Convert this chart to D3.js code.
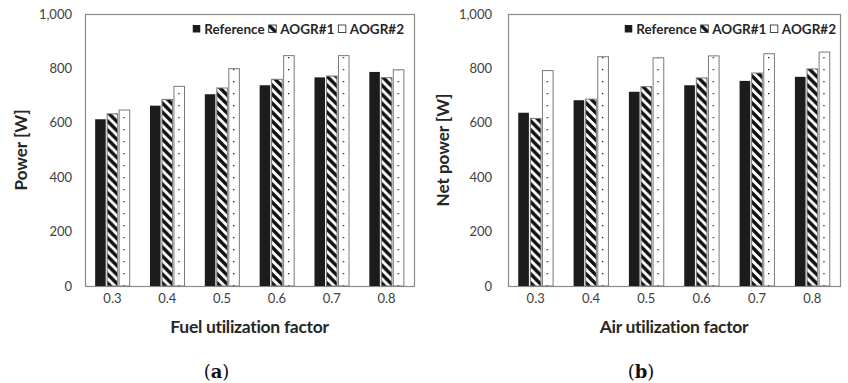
<!DOCTYPE html>
<html>
<head>
<meta charset="utf-8">
<script src="https://cdn.jsdelivr.net/npm/d3@7"></script>
<style>
  html, body { margin: 0; padding: 0; background: #fff; }
  svg { display: block; }
</style>
</head>
<body>
<svg id="chart" width="848" height="383"></svg>
<script>
// Factor levels shared by both panels
const factors = ["0.3", "0.4", "0.5", "0.6", "0.7", "0.8"];
const seriesNames = ["Reference", "AOGR#1", "AOGR#2"];
const yTicks = [0, 200, 400, 600, 800, 1000];

// (a) Power vs fuel utilization factor
const fuelReference = [613, 663, 705, 738, 767, 787];
const fuelAogr1     = [633, 686, 728, 760, 772, 766];
const fuelAogr2     = [647, 734, 799, 847, 847, 795];

// (b) Net power vs air utilization factor
const airReference = [637, 683, 714, 738, 754, 769];
const airAogr1     = [616, 687, 733, 765, 783, 798];
const airAogr2     = [792, 843, 839, 846, 854, 860];

const svg = d3.select("#chart");
const FONT = "Lato, 'Open Sans', sans-serif";

// Fill patterns: wide downward diagonal stripes and sparse dots
const defs = svg.append("defs");
const hatch = defs.append("pattern")
  .attr("id", "hatch").attr("patternUnits", "userSpaceOnUse")
  .attr("width", 9).attr("height", 9);
hatch.append("rect").attr("width", 9).attr("height", 9).attr("fill", "#fff");
hatch.append("path")
  .attr("d", "M-3,-3 L12,12 M-3,6 L3,12 M6,-3 L12,3")
  .attr("stroke", "#111").attr("stroke-width", 3.4);

const dots = defs.append("pattern")
  .attr("id", "dots").attr("patternUnits", "userSpaceOnUse")
  .attr("width", 14).attr("height", 12);
dots.append("rect").attr("width", 14).attr("height", 12).attr("fill", "#fff");
dots.append("rect").attr("x", 4).attr("y", 3).attr("width", 1.3).attr("height", 1.3).attr("fill", "#222");
dots.append("rect").attr("x", 11).attr("y", 9).attr("width", 1.3).attr("height", 1.3).attr("fill", "#222");

const fills = {
  "Reference": { fill: "#1c1c1c", stroke: "none" },
  "AOGR#1":    { fill: "url(#hatch)", stroke: "#7a7a7a" },
  "AOGR#2":    { fill: "url(#dots)", stroke: "#7a7a7a" }
};

function drawPanel(cfg) {
  const { left, right, top, bottom, series, yTitle, xTitle, tag, tickRight, yTitleX, legendEnd } = cfg;

  const x0 = d3.scaleBand().domain(factors).range([left, right]).padding(0);
  const groupW = x0.bandwidth() * 0.63;
  const x1 = d3.scaleBand().domain(seriesNames).range([-groupW / 2, groupW / 2]).paddingInner(0.12);
  const y = d3.scaleLinear().domain([0, 1000]).range([bottom, top]);

  const g = svg.append("g");

  // plot frame
  g.append("rect")
    .attr("x", left + 0.5).attr("y", top + 0.5)
    .attr("width", right - left).attr("height", bottom - top)
    .attr("fill", "none").attr("stroke", "#8a8a8a").attr("stroke-width", 1.2);

  // bars
  const rows = factors.map((f, i) => ({
    factor: f,
    values: seriesNames.map((s, k) => ({ name: s, value: series[k][i] }))
  }));
  const groups = g.selectAll("g.grp").data(rows).join("g")
    .attr("class", "grp")
    .attr("transform", d => `translate(${x0(d.factor) + x0.bandwidth() / 2},0)`);
  groups.selectAll("rect").data(d => d.values).join("rect")
    .attr("x", d => x1(d.name))
    .attr("y", d => y(d.value))
    .attr("width", x1.bandwidth())
    .attr("height", d => y(0) - y(d.value))
    .attr("fill", d => fills[d.name].fill)
    .attr("stroke", d => fills[d.name].stroke)
    .attr("stroke-width", 1);

  // y axis labels (no ticks or domain line; the frame is the axis)
  const yAxis = d3.axisLeft(y).tickValues(yTicks).tickSize(0).tickPadding(0)
    .tickFormat(d3.format(","));
  const ya = g.append("g").attr("transform", `translate(${tickRight},0)`).call(yAxis);
  ya.select(".domain").remove();
  ya.selectAll("text").attr("font-family", FONT).attr("font-size", 13).attr("fill", "#404040");

  // x axis labels
  const xAxis = d3.axisBottom(x0).tickSize(0).tickPadding(0);
  const xa = g.append("g").attr("transform", `translate(0,${bottom + 8})`).call(xAxis);
  xa.select(".domain").remove();
  xa.selectAll("text").attr("font-family", FONT).attr("font-size", 13).attr("fill", "#404040");

  // axis titles
  g.append("text")
    .attr("transform", `translate(${yTitleX},${(top + bottom) / 2}) rotate(-90)`)
    .attr("text-anchor", "middle").attr("dominant-baseline", "central")
    .attr("font-family", FONT).attr("font-weight", "bold").attr("font-size", 17)
    .attr("fill", "#262626").text(yTitle);
  g.append("text")
    .attr("x", (left + right) / 2).attr("y", 326)
    .attr("text-anchor", "middle").attr("dominant-baseline", "central")
    .attr("font-family", FONT).attr("font-weight", "bold").attr("font-size", 17.5)
    .attr("letter-spacing", -0.3)
    .attr("fill", "#262626").text(xTitle);

  // panel tag, e.g. (a)
  const t = g.append("text")
    .attr("x", (left + right) / 2 - 33).attr("y", 378)
    .attr("text-anchor", "middle")
    .attr("font-family", "'DejaVu Serif', 'Liberation Serif', serif").attr("font-size", 18)
    .attr("fill", "#111");
  t.append("tspan").text("(");
  t.append("tspan").attr("font-weight", "bold").text(tag);
  t.append("tspan").text(")");

  // legend, laid out right to left from its end
  const lg = g.append("g");
  const items = seriesNames.map(s => {
    const it = lg.append("g");
    it.append("rect").attr("width", 7.5).attr("height", 7.5)
      .attr("fill", s === "Reference" ? "#1c1c1c" : (s === "AOGR#1" ? "url(#hatch)" : "#fff"))
      .attr("stroke", s === "Reference" ? "none" : "#333").attr("stroke-width", 0.9);
    const tx = it.append("text").attr("x", 11.5).attr("y", 3.75)
      .attr("dominant-baseline", "central")
      .attr("font-family", FONT).attr("font-weight", "bold").attr("font-size", 13.5)
      .attr("fill", "#262626").text(s);
    return { it, w: 11.5 + tx.node().getComputedTextLength() };
  });
  let cx = legendEnd;
  for (let i = items.length - 1; i >= 0; i--) {
    cx -= items[i].w;
    items[i].it.attr("transform", `translate(${cx},${top + 11})`);
    cx -= 4;
  }
}

drawPanel({
  left: 85, right: 414, top: 14, bottom: 286,
  series: [fuelReference, fuelAogr1, fuelAogr2],
  yTitle: "Power [W]", xTitle: "Fuel utilization factor", tag: "a",
  tickRight: 72, yTitleX: 20, legendEnd: 404
});
drawPanel({
  left: 508, right: 840, top: 14, bottom: 286,
  series: [airReference, airAogr1, airAogr2],
  yTitle: "Net power [W]", xTitle: "Air utilization factor", tag: "b",
  tickRight: 492, yTitleX: 442, legendEnd: 836
});
</script>
</body>
</html>
